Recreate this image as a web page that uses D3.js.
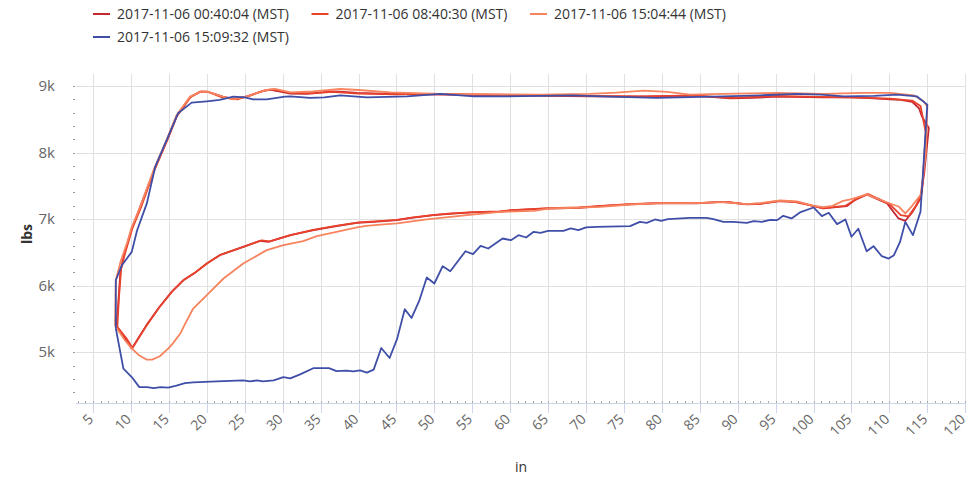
<!DOCTYPE html>
<html>
<head>
<meta charset="utf-8">
<script src="https://cdnjs.cloudflare.com/ajax/libs/d3/7.8.5/d3.min.js"></script>
<style>
  body { margin: 0; background: #fff; }
  svg { display: block; font-family: "Open Sans", "DejaVu Sans", sans-serif; }
  .grid line { stroke: #e0e0e0; stroke-width: 1; shape-rendering: crispEdges; }
  .tick-label { fill: #666; font-size: 14px; }
  .y-label { fill: #666; font-size: 15px; }
  .legend-text { fill: #333; font-size: 14px; }
  .axis-title { fill: #333; font-size: 14px; }
</style>
</head>
<body>
<svg id="chart" width="968" height="479"></svg>
<script>
/* load curves, lbs vs in
*/

var seriesNames = [
    '2017-11-06 00:40:04 (MST)',
    '2017-11-06 08:40:30 (MST)',
    '2017-11-06 15:04:44 (MST)',
    '2017-11-06 15:09:32 (MST)'
]
var seriesColors = ['#c62832', '#e8412c', '#f7845e', '#3f4fa8']

var xTicks = d3.range(5, 121, 5)
var yTicks = [5000, 6000, 7000, 8000, 9000]

// [in, lbs], in path order (up the top branch, back along the bottom one)
var s1 = [
    [8.1,5400],[8.3,5700],[8.6,6200],[9,6430],[10.1,6850],[11.2,7180],[13,7720],[14.7,8170],
    [16,8540],[17.8,8830],[19.1,8910],[20,8915],[21,8880],[22.1,8840],[23.5,8805],[25.3,8845],
    [27,8910],[28.3,8945],[29.5,8920],[31,8885],[33.2,8880],[36.3,8920],[38,8910],[39.8,8895],
    [44.2,8880],[50.8,8870],[60,8860],[70.5,8845],[77,8840],[83.7,8855],[86,8840],[89,8815],
    [92,8820],[95.2,8840],[101.3,8830],[105,8830],[108,8815],[110.1,8800],[111.5,8790],[113,8760],
    [113.9,8665],[114.3,8540],[115.2,8370],[114.6,7700],[114.1,7310],[113,7100],[112.1,6975],
    [111.2,7010],[109.7,7236],[107,7371],[105.5,7290],[104.4,7195],[103,7180],[101.3,7160],
    [100,7195],[97.8,7260],[95.6,7270],[93,7230],[91.2,7221],[89,7250],[87.7,7260],[84.6,7236],
    [80,7240],[75.8,7221],[71.9,7195],[69.2,7170],[65,7160],[60,7130],[58.7,7110],[55,7100],
    [52,7080],[49.9,7060],[47,7020],[45.1,6985],[42,6960],[39.8,6944],[37.1,6894],[34.1,6834],
    [31,6759],[28.1,6658],[27,6673],[24.8,6583],[21.7,6458],[20,6333],[18.5,6200],[16.9,6082],
    [15.3,5900],[13.6,5657],[12,5400],[11,5220],[10.1,5055],[9.3,5200],[8.1,5400]
]

var s2 = [
    [8.2,5380],[8.4,5800],[8.7,6250],[9.2,6480],[10.2,6870],[11.4,7200],[13.1,7740],[14.8,8190],
    [16.1,8560],[17.9,8840],[19.2,8920],[20.2,8910],[22,8830],[24,8800],[25.8,8860],[27.5,8930],
    [28.8,8950],[31,8900],[34,8890],[36.5,8910],[40,8885],[45,8875],[51,8880],[60,8865],
    [70,8850],[78,8845],[84,8860],[89,8820],[95,8850],[101,8835],[106,8825],[110.1,8810],
    [113,8780],[114.1,8700],[114.8,8300],[114.3,7400],[113.5,7200],[112.5,7040],[111.5,7060],
    [110,7230],[107.2,7375],[105.6,7300],[104.2,7200],[102.8,7185],[101.2,7165],[100,7200],
    [97.6,7255],[95.4,7275],[93.2,7235],[91,7225],[88.8,7255],[87.5,7255],[84.4,7240],[80.2,7245],
    [75.6,7225],[72,7200],[69,7175],[65.2,7165],[60.2,7135],[58.5,7115],[55.2,7105],[52.2,7085],
    [50,7065],[47.2,7025],[45,6990],[42.2,6965],[40,6950],[37,6900],[34,6840],[31.2,6765],
    [28.3,6665],[27.2,6680],[25,6590],[21.8,6465],[20.1,6340],[18.6,6210],[17,6090],[15.4,5910],
    [13.7,5670],[12.1,5410],[11.1,5230],[10.2,5065],[9.4,5210],[8.2,5380]
]

var s3 = [
    [7.9,5400],[8,6082],[8.6,6350],[9.5,6650],[10.1,6880],[11.2,7180],[13,7740],[14.7,8190],
    [16,8560],[17.8,8840],[19.1,8910],[20,8915],[22.1,8840],[23.5,8800],[25.3,8845],[27.9,8940],
    [29,8955],[31,8905],[34,8920],[37.6,8955],[40,8940],[44.2,8905],[50.8,8880],[64,8869],
    [70.5,8880],[74,8900],[77.6,8930],[80.7,8910],[83.7,8870],[88,8880],[95.2,8895],[101.3,8880],
    [106.6,8895],[110.1,8895],[113.2,8860],[114.5,8770],[115,8690],[114.8,8000],[114.4,7600],
    [114.1,7360],[113,7200],[112.1,7085],[111.2,7190],[109.7,7250],[107,7371],[105,7300],
    [103.9,7275],[102.5,7200],[101.3,7180],[100,7200],[97.8,7265],[95.6,7280],[93,7240],
    [91.2,7225],[88,7255],[84.6,7240],[80,7240],[75.8,7220],[71.9,7185],[65.3,7160],[63.1,7125],
    [58.7,7110],[54.3,7060],[49,6995],[45.1,6935],[43.3,6920],[41,6900],[39.8,6875],[37.1,6809],
    [34.5,6744],[32.7,6669],[30.1,6609],[27.9,6534],[24.8,6333],[22.2,6108],[20.2,5882],
    [18.2,5657],[17.1,5420],[16.5,5281],[15.5,5130],[14.9,5055],[13.8,4940],[12.8,4889],
    [12.1,4889],[11,4960],[10,5070],[9.2,5180],[7.9,5400]
]

var s4 = [
    [8,5360],[8,6082],[8.8,6308],[10.1,6508],[10.8,6830],[12.1,7240],[13.2,7790],[14.9,8240],
    [16.2,8590],[18,8750],[20,8770],[21.7,8790],[23.5,8840],[25,8830],[26.1,8800],[27.9,8800],
    [30.3,8840],[31,8845],[33.6,8820],[35.5,8830],[37.6,8860],[41.1,8830],[46.4,8845],[50.8,8880],
    [55.2,8845],[59.6,8845],[64,8850],[68.3,8860],[71.9,8845],[79.3,8820],[88.1,8845],[93,8860],
    [97.8,8880],[101,8870],[104,8845],[108,8850],[111,8870],[113.6,8845],[115,8720],[114.6,8000],
    [114.1,7110],[113.1,6759],[112.1,6959],[111.4,6658],[110.6,6458],[109.9,6408],[109,6443],
    [107.9,6594],[107,6518],[105.9,6855],[105,6735],[104.2,6995],[103.1,6925],[102,7095],
    [101.1,7045],[100,7175],[98.2,7100],[97.1,7010],[96,7050],[95.2,6985],[94.3,6990],[93.2,6960],
    [92.1,6970],[91.2,6945],[89.4,6960],[88.1,6960],[86.8,7000],[85.9,7020],[83.7,7020],
    [80.8,7000],[79.9,6975],[79.1,6995],[78,6944],[77.1,6959],[75.8,6894],[71.4,6884],[70,6875],
    [69,6834],[68,6860],[67,6824],[65,6824],[64,6794],[63.1,6809],[62.1,6724],[61.1,6759],
    [60.1,6684],[59,6709],[57.1,6559],[56.1,6598],[55.1,6473],[54.1,6518],[52.1,6218],[51.1,6293],
    [50,6033],[49,6123],[48,5771],[47,5515],[46.1,5646],[45.1,5205],[44.1,4914],[43,5064],
    [42,4739],[41.1,4694],[40.2,4728],[39.3,4713],[38.4,4723],[37.1,4718],[36.1,4763],[34.1,4763],
    [32.3,4668],[31,4608],[30.1,4628],[28.8,4578],[27.4,4563],[26.6,4578],[25.7,4563],[24.8,4578],
    [21.3,4563],[18.2,4548],[17.1,4538],[16,4498],[14.9,4470],[13.9,4477],[13,4462],[12.1,4477],
    [11.1,4477],[10.1,4628],[9,4754],[8,5360]
]

var allSeries = [s1, s2, s3, s4]

var plotLeft = 76, plotRight = 966, plotTop = 74, plotBottom = 403

var svg = d3.select('#chart')

var x = d3.scaleLinear().domain([2.75, 120.1]).range([plotLeft, plotRight])
var y = d3.scaleLinear().domain([4238, 9180]).range([plotBottom, plotTop])

// grid
var grid = svg.append('g').attr('class', 'grid')
grid.selectAll('line.v')
    .data(xTicks)
    .enter().append('line')
    .attr('x1', d => Math.round(x(d)) + 0.5).attr('x2', d => Math.round(x(d)) + 0.5)
    .attr('y1', plotTop).attr('y2', plotBottom)
grid.selectAll('line.h')
    .data(yTicks)
    .enter().append('line')
    .attr('x1', plotLeft).attr('x2', plotRight)
    .attr('y1', d => Math.round(y(d)) + 0.5).attr('y2', d => Math.round(y(d)) + 0.5)

// y minor ticks
svg.append('g').selectAll('line')
    .data(d3.range(4400, 9001, 200))
    .enter().append('line')
    .attr('x1', plotLeft - 3).attr('x2', plotLeft - 1)
    .attr('y1', d => Math.round(y(d)) + 0.5).attr('y2', d => Math.round(y(d)) + 0.5)
    .attr('stroke', '#999').attr('stroke-width', 1)

// x axis line + ticks
var xAxisG = svg.append('g')
xAxisG.append('line')
    .attr('x1', plotLeft).attr('x2', plotRight)
    .attr('y1', plotBottom + 0.5).attr('y2', plotBottom + 0.5)
    .attr('stroke', '#ccd6eb').attr('stroke-width', 1)
xAxisG.selectAll('line.minor')
    .data(d3.range(3, 121, 1))
    .enter().append('line')
    .attr('x1', d => Math.round(x(d)) + 0.5).attr('x2', d => Math.round(x(d)) + 0.5)
    .attr('y1', plotBottom - 2).attr('y2', plotBottom)
    .attr('stroke', '#aaa').attr('stroke-width', 1)
xAxisG.selectAll('line.major')
    .data(xTicks)
    .enter().append('line')
    .attr('x1', d => Math.round(x(d)) + 0.5).attr('x2', d => Math.round(x(d)) + 0.5)
    .attr('y1', plotBottom).attr('y2', plotBottom + 10)
    .attr('stroke', '#ccd6eb').attr('stroke-width', 1)
xAxisG.selectAll('text')
    .data(xTicks)
    .enter().append('text')
    .attr('class', 'tick-label')
    .attr('text-anchor', 'end')
    .attr('transform', d => 'translate(' + (x(d) + 1) + ',' + 420 + ') rotate(-45)')
    .text(d => d)

// y labels
svg.append('g').selectAll('text')
    .data(yTicks)
    .enter().append('text')
    .attr('class', 'y-label')
    .attr('text-anchor', 'end')
    .attr('x', 55)
    .attr('y', d => y(d) + 5)
    .text(d => (d / 1000) + 'k')

// axis titles
svg.append('text')
    .attr('class', 'axis-title')
    .attr('text-anchor', 'middle')
    .attr('x', (plotLeft + plotRight) / 2)
    .attr('y', 472)
    .text('in')
svg.append('text')
    .attr('class', 'axis-title')
    .attr('text-anchor', 'middle')
    .attr('font-weight', 'bold')
    .attr('font-size', '15px')
    .attr('transform', 'translate(32,234) rotate(-90)')
    .text('lbs')

// lines
var line = d3.line()
    .x(d => x(d[0]))
    .y(d => y(d[1]))

svg.append('g').selectAll('path')
    .data(allSeries)
    .enter().append('path')
    .attr('d', d => line(d))
    .attr('fill', 'none')
    .attr('stroke', (d, i) => seriesColors[i])
    .attr('stroke-width', 1.8)
    .attr('stroke-linejoin', 'round')

// legend, 3 items per row
var legend = svg.append('g')
var item = legend.selectAll('g')
    .data(seriesNames)
    .enter().append('g')
    .attr('transform', (d, i) => 'translate(' + (93 + (i % 3) * 218.5) + ',' + (14 + Math.floor(i / 3) * 23) + ')')
item.append('line')
    .attr('x1', 0).attr('x2', 17)
    .attr('y1', 0).attr('y2', 0)
    .attr('stroke', (d, i) => seriesColors[i])
    .attr('stroke-width', 2)
item.append('text')
    .attr('class', 'legend-text')
    .attr('x', 24)
    .attr('y', 5)
    .text(d => d)
</script>
</body>
</html>
